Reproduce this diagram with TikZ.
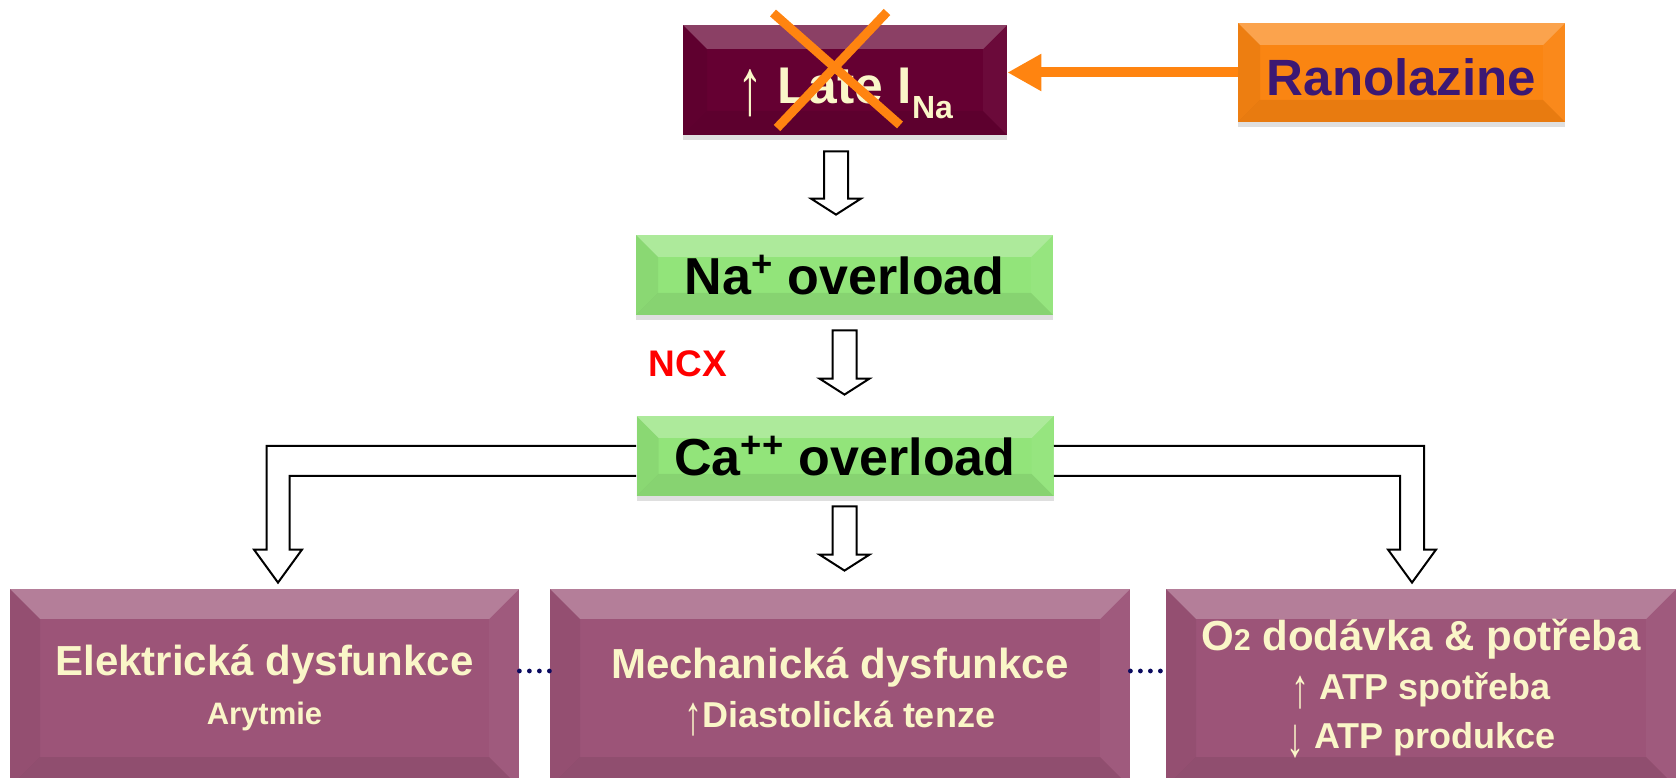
\documentclass[tikz,border=0pt]{standalone}
\usepackage{fontspec}
\usepackage{graphicx}
\setmainfont{Liberation Sans}
\usetikzlibrary{arrows.meta,calc,shadows}

\definecolor{lateRed}{HTML}{650032}
\definecolor{ranoOrange}{HTML}{FA8512}
\definecolor{ranoText}{HTML}{3C1873}
\definecolor{stateGreen}{HTML}{92E47A}
\definecolor{effectMauve}{HTML}{9C5478}
\definecolor{creamText}{HTML}{FAF6C8}
\definecolor{blockOrange}{HTML}{FF8410}
\definecolor{dotNavy}{HTML}{0B0B60}

% thin tall arrows as in the slide
\newcommand{\uparr}{\smash{\raisebox{-0.2em}{\scalebox{1}[1.55]{\mdseries↑}}}}
\newcommand{\downarr}{\smash{\raisebox{-0.2em}{\scalebox{1}[1.55]{\mdseries↓}}}}

\tikzset{
  bevel/.style={path picture={
    \path (path picture bounding box.south west) coordinate (bsw)
          (path picture bounding box.north east) coordinate (bne);
    \fill[white, opacity=.25] (bsw |- bne) -- (bne) -- ([shift={(-#1,-#1)}]bne)
      -- ([shift={(#1,-#1)}]bsw |- bne) -- cycle;
    \fill[black, opacity=.07] (bsw) -- (bsw -| bne) -- ([shift={(-#1,#1)}]bsw -| bne)
      -- ([shift={(#1,#1)}]bsw) -- cycle;
    \fill[black, opacity=.05] (bsw) -- (bsw |- bne) -- ([shift={(#1,-#1)}]bsw |- bne)
      -- ([shift={(#1,#1)}]bsw) -- cycle;
    \fill[white, opacity=.04] (bsw -| bne) -- (bne) -- ([shift={(-#1,-#1)}]bne)
      -- ([shift={(-#1,#1)}]bsw -| bne) -- cycle;
  }},
  bevel/.default=12pt,
  box/.style={rectangle, inner sep=0pt, align=center, font=\bfseries,
    drop shadow={opacity=.25, shadow xshift=0pt, shadow yshift=-2.5pt}},
  lateBox/.style={box, fill=lateRed, text=creamText, minimum width=162pt,
    minimum height=55pt, bevel=12pt, text height=24pt, text depth=0pt},
  ranoBox/.style={box, fill=ranoOrange, text=ranoText, minimum width=163.5pt,
    minimum height=49.5pt, bevel=11pt, text height=23pt, text depth=0pt},
  stateBox/.style={box, fill=stateGreen, text=black, minimum width=208.5pt,
    minimum height=40pt, bevel=11pt},
  effectBox/.style={box, fill=effectMauve, text=creamText, minimum height=99pt,
    bevel=15pt, font=\bfseries\fontsize{21}{24.5}\selectfont},
  hollow/.style={draw=black, fill=white, line width=1pt, line join=miter},
  dotline/.style={draw=dotNavy, line width=2.4pt, line cap=round,
    dash pattern=on 0pt off 5pt},
}

% hollow block arrow pointing down: #1 top middle, #2 tip height
\newcommand{\hollowdown}[2]{%
  \draw[hollow] let \p1 = #1, \p2 = #2 in
    (\x1-6pt,\y1) -- (\x1+6pt,\y1) -- (\x1+6pt,\y2+8pt) -- (\x1+12.5pt,\y2+8pt)
    -- (\x1,\y2) -- (\x1-12.5pt,\y2+8pt) -- (\x1-6pt,\y2+8pt) -- cycle;}

\begin{document}
\begin{tikzpicture}[x=0.5pt, y=0.5pt]
\useasboundingbox (0,0) rectangle (1677,777);

% top row
\node[lateBox] (late) at (845,697)
  {\fontsize{25.8}{30}\selectfont\uparr\ Late I\smash{\raisebox{-7.5pt}{\fontsize{16}{16}\selectfont Na}}};
\node[ranoBox] (rano) at (1401.5,704.5) {\fontsize{25.5}{30}\selectfont Ranolazine};

% blocking
\draw[blockOrange, line width=5pt, -{Triangle[length=17pt,width=17.5pt]}]
  (rano.west) -- (rano.west -| late.east);
\draw[blockOrange, line width=4.5pt] ([shift={(-72,67)}]late.center) -- ([shift={(55,-45)}]late.center);
\draw[blockOrange, line width=4.5pt] ([shift={(42,68)}]late.center) -- ([shift={(-68,-48)}]late.center);

% overload chain
\node[stateBox] (na) at (844.5,502)
  {\fontsize{26}{30}\selectfont Na\textsuperscript{+} overload};
\node[stateBox] (ca) at (845,321)
  {\fontsize{26}{30}\selectfont Ca\textsuperscript{++} overload};
\node[text=red, font=\bfseries\fontsize{18.5}{20}\selectfont] (ncx) at (688,413) {NCX};

% consequences
\node[effectBox, minimum width=254.5pt] (elek) at (264.5,89)
  {Elektrická dysfunkce\\{\fontsize{15.5}{24.5}\selectfont Arytmie}};
\node[effectBox, minimum width=290pt] (mech) at (840,89)
  {Mechanická dysfunkce\\{\fontsize{18}{24.5}\selectfont\uparr Diastolická tenze}};
\node[effectBox, minimum width=255pt] (o2) at (1421,89)
  {O{\fontsize{15}{15}\selectfont 2} dodávka \& potřeba\\
   {\fontsize{18}{24.5}\selectfont\uparr\ ATP spotřeba}\\
   {\fontsize{18}{24.5}\selectfont\downarr\ ATP produkce}};

% arrows
\hollowdown{([xshift=-4.5pt,yshift=-8pt]late.south)}{([yshift=10pt]na.north)}
\hollowdown{([yshift=-7.5pt]na.south)}{([yshift=10.5pt]ca.north)}
\hollowdown{([xshift=-0.25pt,yshift=-5pt]ca.south)}{([yshift=9pt]mech.north)}

\draw[hollow] let \p1 = (ca.west), \p2 = ([xshift=6.75pt,yshift=3pt]elek.north) in
  (\x1,\y1+5pt) -- (\x2-5.75pt,\y1+5pt) -- (\x2-5.75pt,\y2+16.5pt) -- (\x2-12pt,\y2+16.5pt)
  -- (\x2,\y2) -- (\x2+12pt,\y2+16.5pt) -- (\x2+5.75pt,\y2+16.5pt) -- (\x2+5.75pt,\y1-10pt)
  -- (\x1,\y1-10pt);
\draw[hollow] let \p1 = (ca.east), \p2 = ([xshift=-4.5pt,yshift=3pt]o2.north) in
  (\x1,\y1+5pt) -- (\x2+6pt,\y1+5pt) -- (\x2+6pt,\y2+16.5pt) -- (\x2+12pt,\y2+16.5pt)
  -- (\x2,\y2) -- (\x2-12pt,\y2+16.5pt) -- (\x2-6pt,\y2+16.5pt) -- (\x2-6pt,\y1-10pt)
  -- (\x1,\y1-10pt);

% dotted links
\draw[dotline] ([yshift=8.5pt]elek.east) -- ([yshift=8.5pt]mech.west);
\draw[dotline] ([yshift=8.5pt]mech.east) -- ([yshift=8.5pt]o2.west);
\end{tikzpicture}
\end{document}
